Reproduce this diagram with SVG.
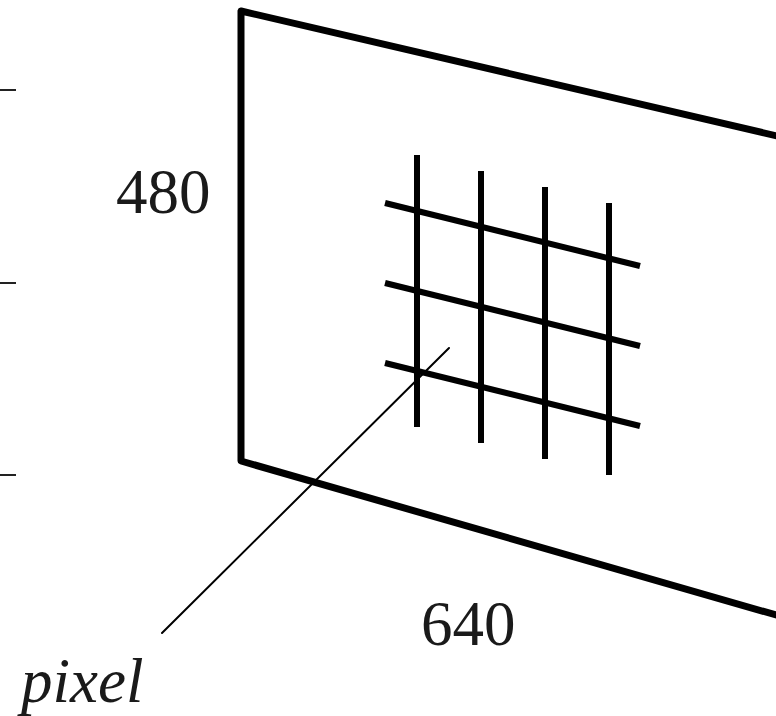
<svg xmlns="http://www.w3.org/2000/svg" width="776" height="716" viewBox="0 0 776 716">
<style>
.thick{stroke:#000;stroke-width:6;fill:none;stroke-linecap:butt}
.frame{stroke:#000;stroke-width:7;fill:none;stroke-linejoin:round}
.tick{stroke:#222;stroke-width:2}
.lead{stroke:#000;stroke-width:2;stroke-linecap:round}
.lbl{font-family:"Liberation Serif","Times New Roman",serif;font-size:63px;fill:#1a1a1a}
</style>
<rect width="776" height="716" fill="#fff"/>
<g id="ticks">
<line class="tick" x1="0" y1="90" x2="16" y2="90"/>
<line class="tick" x1="0" y1="283" x2="16" y2="283"/>
<line class="tick" x1="0" y1="475" x2="16" y2="475"/>
</g>
<g id="screen">
<path class="frame" d="M790,139 L241,11 L241,461 L790,619"/>
</g>
<g id="grid">
<line class="thick" x1="417" y1="155" x2="417" y2="427"/>
<line class="thick" x1="481" y1="171" x2="481" y2="443"/>
<line class="thick" x1="545" y1="187" x2="545" y2="459"/>
<line class="thick" x1="609" y1="203" x2="609" y2="475"/>
<line class="thick" x1="385" y1="203" x2="640" y2="266"/>
<line class="thick" x1="385" y1="283" x2="640" y2="346"/>
<line class="thick" x1="385" y1="363" x2="640" y2="426"/>
</g>
<g id="connectors">
<line class="lead" x1="449" y1="348" x2="162" y2="633"/>
</g>
<g id="labels">
<text class="lbl" x="116" y="213">480</text>
<text class="lbl" x="421" y="645">640</text>
<text class="lbl" x="21" y="702" font-size="61" font-style="italic">pixel</text>
</g>
</svg>
